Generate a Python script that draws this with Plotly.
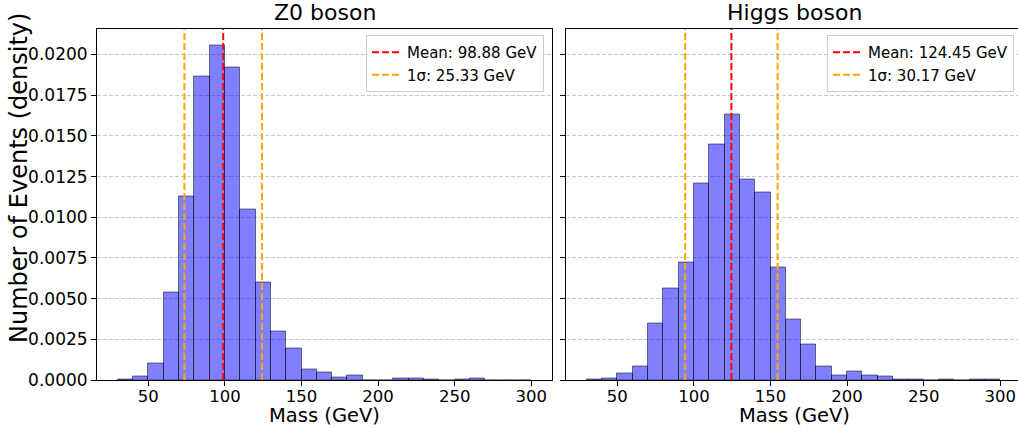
import numpy as np
import plotly.graph_objects as go

# ---------------- data ----------------
bin_edges = [30, 40, 50, 60, 70, 80, 90, 100, 110, 120, 130, 140, 150, 160, 170,
             180, 190, 200, 210, 220, 230, 240, 250, 260, 270, 280, 290, 300]

z0_density = [0.00005, 0.00023, 0.0010, 0.0054, 0.0113, 0.01865, 0.02055, 0.0192,
              0.0105, 0.0060, 0.0030, 0.00195, 0.00066, 0.00047, 0.00018, 0.00029,
              0.0, 0.0, 0.0001, 0.0001, 0.00005, 0.0, 0.00005, 0.0001, 0.0, 0.0, 0.0]

higgs_density = [0.00005, 0.0001, 0.0004, 0.00084, 0.0035, 0.0056, 0.0072, 0.0121,
                 0.0145, 0.0163, 0.0123, 0.0115, 0.0069, 0.0037, 0.0022, 0.0008,
                 0.0003, 0.0005, 0.0003, 0.0002, 0.00005, 0.00005, 0.0, 0.00005,
                 0.0, 0.00005, 0.00005]

panel_titles = ["Z0 boson", "Higgs boson"]
means = [98.88, 124.45]
sigmas = [25.33, 30.17]

x_ticks = [50, 100, 150, 200, 250, 300]
y_ticks = [0.0, 0.0025, 0.005, 0.0075, 0.01, 0.0125, 0.015, 0.0175, 0.02]

# ---------------- layout helpers ----------------
W, H = 1018, 428
FONT = "DejaVu Sans"
Y_TOP = 0.0216


def fx(p):
    return p / W


def fy(p):
    return 1 - p / H


edges = np.array(bin_edges, dtype=float)
centers = (edges[:-1] + edges[1:]) / 2
widths = np.diff(edges)

fig = go.Figure()

panels = [
    dict(dens=z0_density, xa="x", ya="y", legend="legend"),
    dict(dens=higgs_density, xa="x2", ya="y2", legend="legend2"),
]

for i, p in enumerate(panels):
    fig.add_trace(go.Bar(
        x=centers, y=p["dens"], width=widths,
        marker=dict(color="rgba(0,0,255,0.5)",
                    line=dict(color="rgba(0,0,0,0.5)", width=1)),
        showlegend=False, xaxis=p["xa"], yaxis=p["ya"], hoverinfo="skip",
    ))
    m, s = means[i], sigmas[i]
    fig.add_trace(go.Scatter(
        x=[m, m], y=[0, Y_TOP], mode="lines",
        line=dict(color="#ff0000", width=2, dash="7px,3px"),
        name=f"Mean: {m:.2f} GeV", legend=p["legend"],
        xaxis=p["xa"], yaxis=p["ya"],
    ))
    fig.add_trace(go.Scatter(
        x=[m - s, m - s], y=[0, Y_TOP], mode="lines",
        line=dict(color="#ffa500", width=2, dash="7px,3px"),
        name=f"1σ: {s:.2f} GeV", legend=p["legend"],
        xaxis=p["xa"], yaxis=p["ya"],
    ))
    fig.add_trace(go.Scatter(
        x=[m + s, m + s], y=[0, Y_TOP], mode="lines",
        line=dict(color="#ffa500", width=2, dash="7px,3px"),
        showlegend=False,
        xaxis=p["xa"], yaxis=p["ya"],
    ))

axis_common = dict(
    ticks="outside", ticklen=5, tickwidth=1, tickcolor="black",
    showline=True, linecolor="black", linewidth=1,
    zeroline=False,
)
y_tickfont = dict(size=17, family=FONT, color="black")
x_tickfont = dict(size=16.5, family=FONT, color="black")

px_per_unit = 455 / 297.0
y_dom = [fy(380), fy(28.5)]

legend_common = dict(
    xanchor="right", yanchor="top", bordercolor="#cccccc", borderwidth=1,
    bgcolor="rgba(255,255,255,0.8)", font=dict(size=15, family=FONT, color="black"),
    tracegroupgap=0,
)

fig.update_layout(
    width=W, height=H,
    margin=dict(l=0, r=0, t=0, b=0),
    paper_bgcolor="white", plot_bgcolor="white",
    bargap=0, barmode="overlay",
    font=dict(family=FONT, color="black"),
    xaxis=dict(domain=[fx(97), fx(552)], range=[16.5, 313.5], tickvals=x_ticks,
               anchor="y", mirror=True, showgrid=False, automargin=False,
               ticklabelstandoff=-4, tickfont=x_tickfont, **axis_common),
    yaxis=dict(domain=y_dom, range=[0, Y_TOP], tickvals=y_ticks, tickformat=".4f",
               anchor="x", mirror=True, showgrid=True, gridcolor="#c8c8c8",
               griddash="4px,2px", gridwidth=1, automargin=False,
               tickfont=y_tickfont, **axis_common),
    xaxis2=dict(domain=[fx(566), 1.0], range=[16.5, 16.5 + 452 / px_per_unit],
                tickvals=x_ticks, anchor="y2", mirror=True, showgrid=False,
                automargin=False, ticklabelstandoff=-4, tickfont=x_tickfont,
                **axis_common),
    yaxis2=dict(domain=y_dom, range=[0, Y_TOP], tickvals=y_ticks, matches="y",
                anchor="x2", showticklabels=False, mirror=False, showgrid=True,
                gridcolor="#c8c8c8", griddash="4px,2px", gridwidth=1,
                automargin=False, tickfont=y_tickfont, **axis_common),
    legend=dict(x=fx(544), y=fy(35), **legend_common),
    legend2=dict(x=fx(1014), y=fy(35), **legend_common),
)

annotations = []
centers_px = [(97 + 552) / 2, (566 + 1022) / 2]
for i, t in enumerate(panel_titles):
    annotations.append(dict(text=t, x=fx(centers_px[i]), y=fy(27.5), xref="paper",
                            yref="paper", xanchor="center", yanchor="bottom",
                            showarrow=False, font=dict(size=22, family=FONT, color="black")))
    annotations.append(dict(text="Mass (GeV)", x=fx(centers_px[i]), y=fy(428),
                            xref="paper", yref="paper", xanchor="center",
                            yanchor="bottom", showarrow=False, borderpad=0,
                            font=dict(size=19.5, family=FONT, color="black")))
annotations.append(dict(text="Number of Events (density)", x=fx(19), y=fy(178),
                        xref="paper", yref="paper", xanchor="center", yanchor="middle",
                        textangle=-90, showarrow=False,
                        font=dict(size=24, family=FONT, color="black")))
fig.update_layout(annotations=annotations)

fig.write_html(
    "out.html",
    config={"displayModeBar": False},
    post_script="document.body.style.margin='0';document.body.style.overflow='hidden';",
)
